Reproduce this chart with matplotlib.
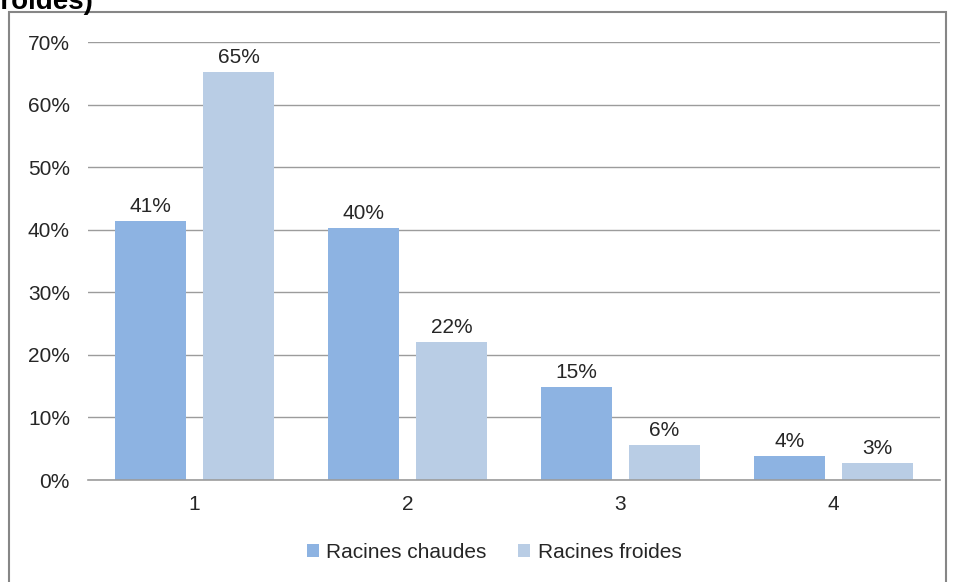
import matplotlib

matplotlib.use("Agg")
import matplotlib.pyplot as plt
from matplotlib.patches import Rectangle

plt.rcParams["font.family"] = ["Liberation Sans", "DejaVu Sans"]

CATEGORIES = ["1", "2", "3", "4"]
SERIES_NAMES = ["Racines chaudes", "Racines froides"]
HOT_VALUES = [41.4, 40.3, 14.9, 3.8]
COLD_VALUES = [65.2, 22.1, 5.6, 2.7]
HOT_LABELS = ["41%", "40%", "15%", "4%"]
COLD_LABELS = ["65%", "22%", "6%", "3%"]
Y_TICKS = [0, 10, 20, 30, 40, 50, 60, 70]

HOT_COLOR = "#8DB3E2"
COLD_COLOR = "#B9CDE5"
TEXT_COLOR = "#262626"
FS = 15
W, H = 955, 582

fig = plt.figure(figsize=(W / 100, H / 100), dpi=100)
ax = fig.add_axes([88 / W, 1 - 480 / H, (940 - 88) / W, (480 - 42) / H])

bar_w = 0.333
gap = 0.08
x = list(range(len(CATEGORIES)))
x_hot = [i - (bar_w + gap) / 2 for i in x]
x_cold = [i + (bar_w + gap) / 2 for i in x]

bars_hot = ax.bar(x_hot, HOT_VALUES, width=bar_w, color=HOT_COLOR, label=SERIES_NAMES[0], zorder=3)
bars_cold = ax.bar(x_cold, COLD_VALUES, width=bar_w, color=COLD_COLOR, label=SERIES_NAMES[1], zorder=3)

for bars, labels in ((bars_hot, HOT_LABELS), (bars_cold, COLD_LABELS)):
    for b, lab in zip(bars, labels):
        ax.annotate(lab, (b.get_x() + b.get_width() / 2, b.get_height()),
                    xytext=(0, 3.5), textcoords="offset points",
                    ha="center", va="bottom", fontsize=FS, color=TEXT_COLOR)

ax.set_xlim(-0.5, len(CATEGORIES) - 0.5)
ax.set_ylim(0, 70)
ax.set_yticks(Y_TICKS)
ax.set_yticklabels([f"{t}%" for t in Y_TICKS])
ax.set_xticks(x)
ax.set_xticklabels(CATEGORIES)
ax.tick_params(axis="both", length=0, labelsize=FS, labelcolor=TEXT_COLOR)
ax.tick_params(axis="y", pad=13)
ax.tick_params(axis="x", pad=11)
ax.grid(axis="y", color="#9c9c9c", linewidth=1, zorder=0)
for side in ("left", "right", "top"):
    ax.spines[side].set_visible(False)
ax.spines["bottom"].set_color("#9c9c9c")
ax.spines["bottom"].set_linewidth(1.2)
ax.spines["bottom"].set_zorder(4)

leg = fig.legend(loc="center", bbox_to_anchor=(494 / W, 1 - 552 / H), ncol=2, frameon=False,
                 fontsize=FS, handlelength=0.6, handleheight=0.6, handletextpad=0.35,
                 columnspacing=1.5)
for t in leg.get_texts():
    t.set_color(TEXT_COLOR)

# chart border and clipped title remnant
fig.patches.append(Rectangle((9 / W, -0.05), (946 - 9) / W, 1 + 0.05 - 12 / H,
                             transform=fig.transFigure, fill=False,
                             edgecolor="#868686", linewidth=1.5))
fig.text(-8 / W, 1 - 9 / H, "froides)", fontsize=20, fontweight="bold",
         color="black", ha="left", va="baseline")

fig.savefig("out.png", dpi=100)
